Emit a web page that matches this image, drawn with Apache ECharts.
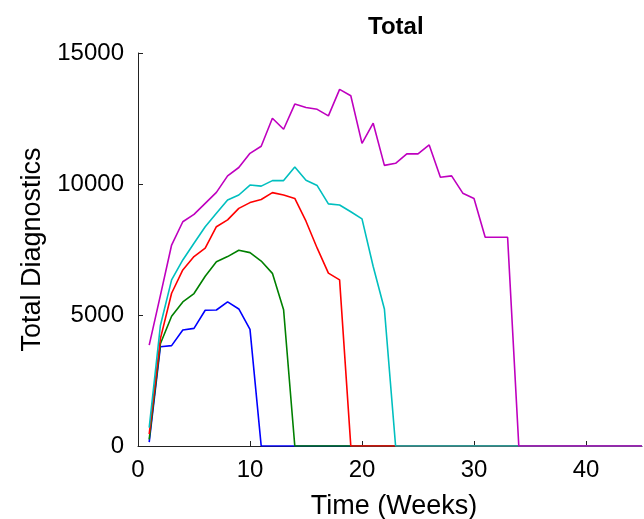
<!DOCTYPE html>
<html>
<head>
<meta charset="utf-8">
<script src="https://cdn.jsdelivr.net/npm/echarts@6/dist/echarts.min.js"></script>
<style>
html,body{margin:0;padding:0;background:#fff;}
#chart{width:644px;height:519px;}
</style>
</head>
<body>
<div id="chart"></div>
<script>
// Weeks 1..45
var weeks = [];
for (var i = 1; i <= 45; i++) weeks.push(i);

var blueValues = [150, 3790, 3830, 4430, 4490, 5180, 5190, 5500, 5230, 4450, 0,
  0, 0, 0, 0, 0, 0, 0, 0, 0, 0, 0, 0, 0, 0, 0, 0, 0, 0, 0, 0, 0, 0, 0, 0, 0, 0, 0, 0, 0, 0, 0, 0, 0, 0];
var greenValues = [250, 3900, 4950, 5500, 5820, 6480, 7030, 7230, 7470, 7380, 7060, 6590, 5200, 0,
  0, 0, 0, 0, 0, 0, 0, 0, 0, 0, 0, 0, 0, 0, 0, 0, 0, 0, 0, 0, 0, 0, 0, 0, 0, 0, 0, 0, 0, 0, 0];
var redValues = [450, 4100, 5830, 6720, 7230, 7550, 8370, 8630, 9070, 9290, 9410, 9670, 9580, 9450, 8580, 7550, 6600, 6340, 0,
  0, 0, 0, 0, 0, 0, 0, 0, 0, 0, 0, 0, 0, 0, 0, 0, 0, 0, 0, 0, 0, 0, 0, 0, 0, 0];
var cyanValues = [700, 4600, 6340, 7100, 7740, 8370, 8880, 9390, 9580, 9960, 9920, 10130, 10130, 10650, 10140, 9940, 9240, 9200, 8940, 8670, 6850, 5230, 0,
  0, 0, 0, 0, 0, 0, 0, 0, 0, 0, 0, 0, 0, 0, 0, 0, 0, 0, 0, 0, 0, 0];
var magentaValues = [3850, 5750, 7670, 8560, 8840, 9260, 9680, 10310, 10630, 11170, 11440, 12510, 12090, 13050, 12920, 12850, 12600, 13610, 13370, 11550, 12320, 10710, 10790, 11150, 11150, 11490, 10260, 10310, 9650, 9450, 7970, 7970, 7970, 0,
  0, 0, 0, 0, 0, 0, 0, 0, 0, 0, 0];

var xTicks = [0, 10, 20, 30, 40];
var yTicks = [0, 5000, 10000, 15000];

var seriesNames = ['s1', 's2', 's3', 's4', 's5'];
var seriesData = [blueValues, greenValues, redValues, cyanValues, magentaValues];
var seriesColors = ['#0000ff', '#008000', '#ff0000', '#00bfbf', '#bf00bf'];

function pairs(vals) {
  return weeks.map(function (w, i) { return [w, vals[i]]; });
}

var axisColor = '#222';
var font = 'Liberation Sans, Arial, Helvetica, sans-serif';

var chart = echarts.init(document.getElementById('chart'), null, {renderer: 'canvas'});
chart.setOption({
  animation: false,
  backgroundColor: '#ffffff',
  title: {
    text: 'Total',
    left: 363,
    top: 10,
    textStyle: {fontFamily: font, fontWeight: 'bold', fontSize: 24, color: '#000'}
  },
  grid: {left: 138, right: 2, top: 53, bottom: 73, containLabel: false, outerBoundsMode: 'none'},
  xAxis: {
    type: 'value',
    min: 0, max: 45, interval: 10,
    name: 'Time (Weeks)',
    nameLocation: 'middle',
    nameGap: 47,
    nameTextStyle: {fontFamily: font, fontSize: 27, color: '#000', padding: [0, 0, 0, 8]},
    axisLine: {show: true, onZero: false, lineStyle: {color: axisColor, width: 1}},
    axisTick: {show: true, inside: true, length: 5, lineStyle: {color: axisColor}},
    axisLabel: {
      fontFamily: font, fontSize: 24, color: '#000', margin: 12,
      showMaxLabel: false,
      formatter: function (v) { return xTicks.indexOf(v) >= 0 ? String(v) : ''; }
    },
    splitLine: {show: false}
  },
  yAxis: {
    type: 'value',
    min: 0, max: 15000, interval: 5000,
    name: 'Total Diagnostics',
    nameLocation: 'middle',
    nameGap: 92,
    nameTextStyle: {fontFamily: font, fontSize: 27, color: '#000'},
    axisLine: {show: true, lineStyle: {color: axisColor, width: 1}},
    axisTick: {show: true, inside: true, length: 5, lineStyle: {color: axisColor}},
    axisLabel: {
      fontFamily: font, fontSize: 24, color: '#000', margin: 14,
      formatter: function (v) { return yTicks.indexOf(v) >= 0 ? String(v) : ''; }
    },
    splitLine: {show: false}
  },
  series: seriesData.map(function (vals, k) {
    return {
      name: seriesNames[k],
      type: 'line',
      data: pairs(vals),
      showSymbol: false,
      symbol: 'none',
      clip: true,
      lineStyle: {color: seriesColors[k], width: 1.6},
      itemStyle: {color: seriesColors[k]}
    };
  })
});
</script>
</body>
</html>
